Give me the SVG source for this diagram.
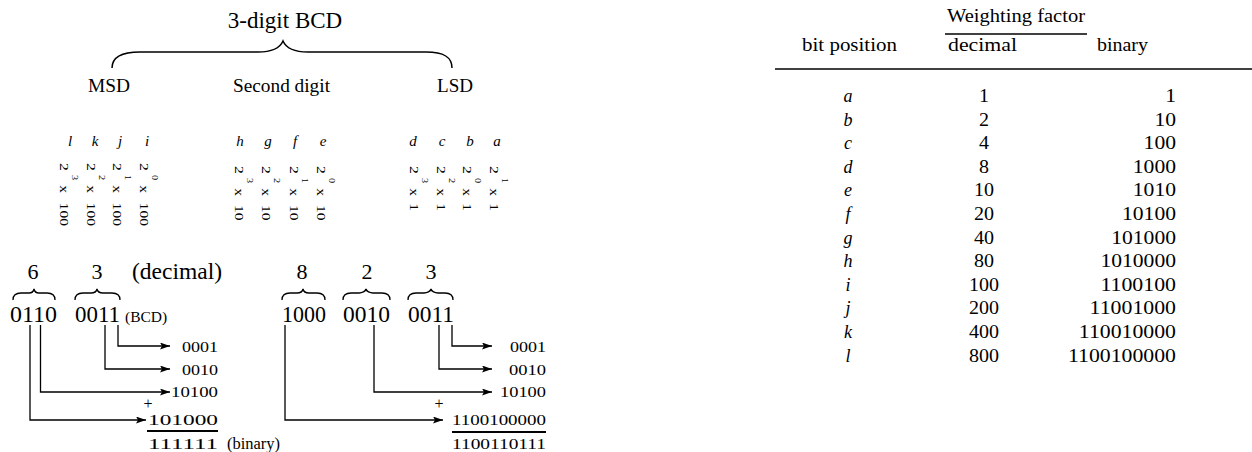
<svg xmlns="http://www.w3.org/2000/svg" width="1252" height="452" viewBox="0 0 1252 452">
<style>
.t{font-family:"Liberation Serif","Times New Roman",serif;fill:#000}
.i{font-style:italic}
.m{text-anchor:middle}
.ln{fill:none;stroke:#000;stroke-width:1.3}
.br{fill:none;stroke:#000;stroke-width:1.5}
.ul{stroke:#000;stroke-width:1.8}
.r{font-size:13px}
.s{font-size:8.5px}
.n{font-size:15px}
.h{font-size:18px}
</style>
<defs>
<marker id="ah" markerUnits="userSpaceOnUse" markerWidth="11" markerHeight="8" refX="10" refY="3.5" orient="auto">
<path d="M0,0 L10,3.5 L0,7 L2,3.5 z" fill="#000"/>
</marker>
</defs>
<rect width="1252" height="452" fill="#fff"/>

<g id="title">
<text class="t m" x="285" y="28" font-size="23">3-digit BCD</text>
<path class="br" d="M112,68 C112,57 122,52 140,52 L258,52 C272,52 280,48 283,41 C286,48 294,52 308,52 L426,52 C444,52 452,57 452,68"/>
</g>

<g id="digit-labels">
<text class="t h" x="88" y="92" textLength="42" lengthAdjust="spacingAndGlyphs">MSD</text>
<text class="t h" x="233" y="92" textLength="97" lengthAdjust="spacingAndGlyphs">Second digit</text>
<text class="t h" x="437" y="92" textLength="36" lengthAdjust="spacingAndGlyphs">LSD</text>
</g>

<g id="msd-bits">
<text class="t i m" x="70" y="146" font-size="15">l</text>
<text class="t i m" x="95" y="146" font-size="15">k</text>
<text class="t i m" x="120" y="146" font-size="15">j</text>
<text class="t i m" x="147" y="146" font-size="15">i</text>
<text class="t r" transform="translate(60,163) rotate(90) scale(1.2,1)"><tspan x="0" y="0">2</tspan><tspan class="s" x="10" y="-12.5">3</tspan><tspan x="18.5" y="0">x</tspan><tspan x="33" y="0">100</tspan></text>
<text class="t r" transform="translate(87,163) rotate(90) scale(1.2,1)"><tspan x="0" y="0">2</tspan><tspan class="s" x="10" y="-12.5">2</tspan><tspan x="18.5" y="0">x</tspan><tspan x="33" y="0">100</tspan></text>
<text class="t r" transform="translate(113,163) rotate(90) scale(1.2,1)"><tspan x="0" y="0">2</tspan><tspan class="s" x="10" y="-12.5">1</tspan><tspan x="18.5" y="0">x</tspan><tspan x="33" y="0">100</tspan></text>
<text class="t r" transform="translate(140,163) rotate(90) scale(1.2,1)"><tspan x="0" y="0">2</tspan><tspan class="s" x="10" y="-12.5">0</tspan><tspan x="18.5" y="0">x</tspan><tspan x="33" y="0">100</tspan></text>
</g>

<g id="second-bits">
<text class="t i m" x="240" y="146" font-size="15">h</text>
<text class="t i m" x="268" y="146" font-size="15">g</text>
<text class="t i m" x="295" y="146" font-size="15">f</text>
<text class="t i m" x="323" y="146" font-size="15">e</text>
<text class="t r" transform="translate(235,166) rotate(90) scale(1.2,1)"><tspan x="0" y="0">2</tspan><tspan class="s" x="10" y="-12.5">3</tspan><tspan x="18.5" y="0">x</tspan><tspan x="32.5" y="0">10</tspan></text>
<text class="t r" transform="translate(262,166) rotate(90) scale(1.2,1)"><tspan x="0" y="0">2</tspan><tspan class="s" x="10" y="-12.5">2</tspan><tspan x="18.5" y="0">x</tspan><tspan x="32.5" y="0">10</tspan></text>
<text class="t r" transform="translate(290,166) rotate(90) scale(1.2,1)"><tspan x="0" y="0">2</tspan><tspan class="s" x="10" y="-12.5">1</tspan><tspan x="18.5" y="0">x</tspan><tspan x="32.5" y="0">10</tspan></text>
<text class="t r" transform="translate(317,166) rotate(90) scale(1.2,1)"><tspan x="0" y="0">2</tspan><tspan class="s" x="10" y="-12.5">0</tspan><tspan x="18.5" y="0">x</tspan><tspan x="32.5" y="0">10</tspan></text>
</g>

<g id="lsd-bits">
<text class="t i m" x="413" y="146" font-size="15">d</text>
<text class="t i m" x="442" y="146" font-size="15">c</text>
<text class="t i m" x="470" y="146" font-size="15">b</text>
<text class="t i m" x="497" y="146" font-size="15">a</text>
<text class="t r" transform="translate(410,166) rotate(90) scale(1.2,1)"><tspan x="0" y="0">2</tspan><tspan class="s" x="10" y="-12.5">3</tspan><tspan x="18.5" y="0">x</tspan><tspan x="31" y="0">1</tspan></text>
<text class="t r" transform="translate(437,166) rotate(90) scale(1.2,1)"><tspan x="0" y="0">2</tspan><tspan class="s" x="10" y="-12.5">2</tspan><tspan x="18.5" y="0">x</tspan><tspan x="31" y="0">1</tspan></text>
<text class="t r" transform="translate(463,166) rotate(90) scale(1.2,1)"><tspan x="0" y="0">2</tspan><tspan class="s" x="10" y="-12.5">0</tspan><tspan x="18.5" y="0">x</tspan><tspan x="31" y="0">1</tspan></text>
<text class="t r" transform="translate(490,166) rotate(90) scale(1.2,1)"><tspan x="0" y="0">2</tspan><tspan class="s" x="10" y="-12.5">1</tspan><tspan x="18.5" y="0">x</tspan><tspan x="31" y="0">1</tspan></text>
</g>

<g id="example-63">
<text class="t m" x="33" y="279" font-size="22">6</text>
<text class="t m" x="97" y="279" font-size="22">3</text>
<text class="t" x="132" y="279" font-size="23" textLength="90" lengthAdjust="spacingAndGlyphs">(decimal)</text>
<path class="ln" d="M13,300 C13,295 16,293 21,293 L29,293 C32,293 33.5,291.5 34,289 C34.5,291.5 36,293 39,293 L47,293 C52,293 55,295 55,300"/>
<path class="ln" d="M75,300 C75,295 78,293 83,293 L91,293 C94,293 96.5,291.5 97,289 C97.5,291.5 100,293 103,293 L112,293 C117,293 120,295 120,300"/>
<text class="t" x="10" y="322" font-size="23" textLength="47" lengthAdjust="spacingAndGlyphs">0110</text>
<text class="t" x="75" y="322" font-size="23" textLength="45" lengthAdjust="spacingAndGlyphs">0011</text>
<text class="t" x="125" y="322" font-size="15.5">(BCD)</text>
<text class="t n" x="182" y="352" textLength="36" lengthAdjust="spacingAndGlyphs">0001</text>
<text class="t n" x="182" y="375" textLength="36" lengthAdjust="spacingAndGlyphs">0010</text>
<text class="t n" x="171" y="397" textLength="47" lengthAdjust="spacingAndGlyphs">10100</text>
<text class="t m" x="148" y="409" font-size="16">+</text>
<text class="t n" x="148" y="425" textLength="70" lengthAdjust="spacingAndGlyphs">101000</text>
<line class="ul" x1="147" y1="431" x2="218" y2="431"/>
<text class="t n" x="148" y="449" textLength="70" lengthAdjust="spacingAndGlyphs">111111</text>
<text class="t" x="227" y="449" font-size="16" textLength="53" lengthAdjust="spacingAndGlyphs">(binary)</text>
</g>

<g id="example-823">
<text class="t m" x="302" y="279" font-size="22">8</text>
<text class="t m" x="367" y="279" font-size="22">2</text>
<text class="t m" x="431" y="279" font-size="22">3</text>
<path class="ln" d="M282,300 C282,295 285,293 290,293 L297,293 C300,293 302.5,291.5 303,289 C303.5,291.5 306,293 309,293 L317,293 C322,293 325,295 325,300"/>
<path class="ln" d="M343,300 C343,295 346,293 351,293 L359,293 C362,293 365.5,291.5 366,289 C366.5,291.5 370,293 373,293 L382,293 C387,293 390,295 390,300"/>
<path class="ln" d="M408,300 C408,295 411,293 416,293 L424,293 C427,293 430.5,291.5 431,289 C431.5,291.5 435,293 438,293 L445,293 C450,293 453,295 453,300"/>
<text class="t" x="282" y="322" font-size="23" textLength="44" lengthAdjust="spacingAndGlyphs">1000</text>
<text class="t" x="343" y="322" font-size="23" textLength="47" lengthAdjust="spacingAndGlyphs">0010</text>
<text class="t" x="408" y="322" font-size="23" textLength="46" lengthAdjust="spacingAndGlyphs">0011</text>
<text class="t n" x="510" y="352" textLength="36" lengthAdjust="spacingAndGlyphs">0001</text>
<text class="t n" x="509" y="375" textLength="37" lengthAdjust="spacingAndGlyphs">0010</text>
<text class="t n" x="500" y="397" textLength="46" lengthAdjust="spacingAndGlyphs">10100</text>
<text class="t m" x="439" y="409" font-size="16">+</text>
<text class="t n" x="452" y="425" textLength="94" lengthAdjust="spacingAndGlyphs">1100100000</text>
<line class="ul" x1="452" y1="432" x2="546" y2="432"/>
<text class="t n" x="452" y="449" textLength="94" lengthAdjust="spacingAndGlyphs">1100110111</text>
</g>

<g id="connectors">
<path class="ln" marker-end="url(#ah)" d="M118,325 V346 H170"/>
<path class="ln" marker-end="url(#ah)" d="M105,325 V369 H170"/>
<path class="ln" marker-end="url(#ah)" d="M40.5,325 V392 H170"/>
<path class="ln" marker-end="url(#ah)" d="M30,325 V420 H146"/>
<path class="ln" marker-end="url(#ah)" d="M452,325 V346 H492"/>
<path class="ln" marker-end="url(#ah)" d="M439,325 V369 H492"/>
<path class="ln" marker-end="url(#ah)" d="M374,325 V392 H492"/>
<path class="ln" marker-end="url(#ah)" d="M285,325 V420 H443"/>
</g>

<g id="table">
<text class="t h" x="947" y="22" textLength="138" lengthAdjust="spacingAndGlyphs">Weighting factor</text>
<line class="ln" x1="945" y1="34" x2="1087" y2="34"/>
<text class="t h" x="802" y="51" textLength="95" lengthAdjust="spacingAndGlyphs">bit position</text>
<text class="t h" x="948" y="51" textLength="69" lengthAdjust="spacingAndGlyphs">decimal</text>
<text class="t h" x="1097" y="51" textLength="51" lengthAdjust="spacingAndGlyphs">binary</text>
<line class="ln" x1="775" y1="69" x2="1252" y2="69"/>
<g class="t h">
<text class="i m" x="848" y="102">a</text><text x="979" y="102" textLength="10" lengthAdjust="spacingAndGlyphs">1</text><text x="1165.2" y="102" textLength="10.8" lengthAdjust="spacingAndGlyphs">1</text>
<text class="i m" x="848" y="125.6">b</text><text x="979" y="125.6" textLength="10" lengthAdjust="spacingAndGlyphs">2</text><text x="1154.4" y="125.6" textLength="21.6" lengthAdjust="spacingAndGlyphs">10</text>
<text class="i m" x="848" y="149.2">c</text><text x="979" y="149.2" textLength="10" lengthAdjust="spacingAndGlyphs">4</text><text x="1143.6" y="149.2" textLength="32.4" lengthAdjust="spacingAndGlyphs">100</text>
<text class="i m" x="848" y="172.8">d</text><text x="979" y="172.8" textLength="10" lengthAdjust="spacingAndGlyphs">8</text><text x="1132.8" y="172.8" textLength="43.2" lengthAdjust="spacingAndGlyphs">1000</text>
<text class="i m" x="848" y="196.4">e</text><text x="974" y="196.4" textLength="20" lengthAdjust="spacingAndGlyphs">10</text><text x="1132.8" y="196.4" textLength="43.2" lengthAdjust="spacingAndGlyphs">1010</text>
<text class="i m" x="848" y="220">f</text><text x="974" y="220" textLength="20" lengthAdjust="spacingAndGlyphs">20</text><text x="1122" y="220" textLength="54" lengthAdjust="spacingAndGlyphs">10100</text>
<text class="i m" x="848" y="243.6">g</text><text x="974" y="243.6" textLength="20" lengthAdjust="spacingAndGlyphs">40</text><text x="1111.2" y="243.6" textLength="64.8" lengthAdjust="spacingAndGlyphs">101000</text>
<text class="i m" x="848" y="267.2">h</text><text x="974" y="267.2" textLength="20" lengthAdjust="spacingAndGlyphs">80</text><text x="1100.4" y="267.2" textLength="75.6" lengthAdjust="spacingAndGlyphs">1010000</text>
<text class="i m" x="848" y="290.8">i</text><text x="969" y="290.8" textLength="30" lengthAdjust="spacingAndGlyphs">100</text><text x="1100.4" y="290.8" textLength="75.6" lengthAdjust="spacingAndGlyphs">1100100</text>
<text class="i m" x="848" y="314.4">j</text><text x="969" y="314.4" textLength="30" lengthAdjust="spacingAndGlyphs">200</text><text x="1089.6" y="314.4" textLength="86.4" lengthAdjust="spacingAndGlyphs">11001000</text>
<text class="i m" x="848" y="338">k</text><text x="969" y="338" textLength="30" lengthAdjust="spacingAndGlyphs">400</text><text x="1078.8" y="338" textLength="97.2" lengthAdjust="spacingAndGlyphs">110010000</text>
<text class="i m" x="848" y="361.6">l</text><text x="969" y="361.6" textLength="30" lengthAdjust="spacingAndGlyphs">800</text><text x="1068" y="361.6" textLength="108" lengthAdjust="spacingAndGlyphs">1100100000</text>
</g>
</g>
</svg>
